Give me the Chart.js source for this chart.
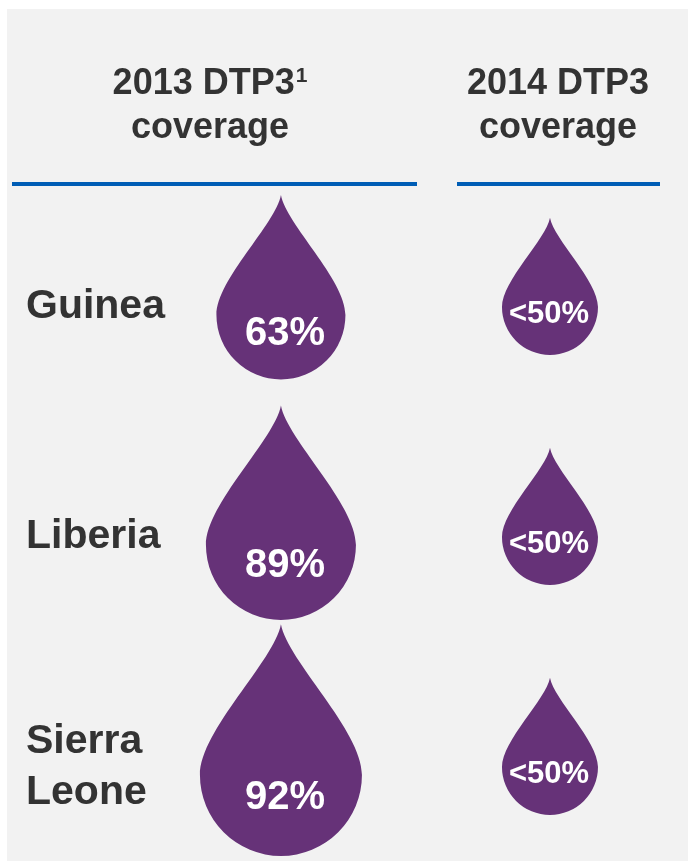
<!DOCTYPE html>
<html>
<head>
<meta charset="utf-8">
<script src="https://cdn.jsdelivr.net/npm/chart.js@4"></script>
<style>
  body { margin: 0; background: #fff; }
  canvas { display: block; }
</style>
</head>
<body>
<canvas id="chart" width="688" height="861"></canvas>
<script>
// data
const countries = ["Guinea", "Liberia", "Sierra Leone"];
const years = [2013, 2014];
const coverage2013 = [63, 89, 92];
const coverage2014 = [50, 50, 50]; // shown as "<50%"
const headers = [
  { main: "2013 DTP3", sup: "1", sub: "coverage" },
  { main: "2014 DTP3", sup: "", sub: "coverage" }
];

const purple = "#663278";
const textColor = "#333333";
const fontFamily = "'Liberation Sans', Arial, sans-serif";

function points(year, values) {
  return values.map((v, i) => ({ x: year, y: countries[i], v: v }));
}

// drop shaped path, circle part centred on cx, cy
function dropPath(ctx, cx, cy, r) {
  const tip = cy - 1.86 * r;
  ctx.beginPath();
  ctx.moveTo(cx, tip);
  ctx.bezierCurveTo(cx + 0.08 * r, tip + 0.45 * r, cx + r, cy - 0.55 * r, cx + r, cy);
  ctx.arc(cx, cy, r, 0, Math.PI);
  ctx.bezierCurveTo(cx - r, cy - 0.55 * r, cx - 0.08 * r, tip + 0.45 * r, cx, tip);
  ctx.closePath();
}

const panelPlugin = {
  id: "panel",
  beforeDraw(chart) {
    const ctx = chart.ctx;
    ctx.save();
    ctx.fillStyle = "#ffffff";
    ctx.fillRect(0, 0, chart.width, chart.height);
    ctx.fillStyle = "#f2f2f2";
    ctx.fillRect(7, 9, chart.width - 7, chart.height - 9);
    ctx.restore();
  }
};

// column headers + blue rules
const headerPlugin = {
  id: "headers",
  afterDraw(chart) {
    const ctx = chart.ctx;
    const centres = [210, 558];
    const rules = [[12, 417], [457, 660]];
    ctx.save();
    ctx.fillStyle = textColor;
    ctx.textBaseline = "alphabetic";
    headers.forEach((h, i) => {
      ctx.font = "bold 36px " + fontFamily;
      const wMain = ctx.measureText(h.main).width;
      ctx.font = "bold 21px " + fontFamily;
      const wSup = h.sup ? ctx.measureText(h.sup).width + 1 : 0;
      const x0 = centres[i] - (wMain + wSup) / 2;
      ctx.textAlign = "left";
      ctx.font = "bold 36px " + fontFamily;
      ctx.fillText(h.main, x0, 94);
      if (h.sup) {
        ctx.font = "bold 21px " + fontFamily;
        ctx.fillText(h.sup, x0 + wMain + 1, 82);
      }
      ctx.font = "bold 36px " + fontFamily;
      ctx.textAlign = "center";
      ctx.fillText(h.sub, centres[i], 138);
    });
    ctx.fillStyle = "#005db5";
    rules.forEach(r => ctx.fillRect(r[0], 182, r[1] - r[0], 4));
    ctx.restore();
  }
};

// DROPS
const dropPlugin = {
  id: "drops",
  afterDatasetsDraw(chart) {
    const ctx = chart.ctx;
    chart.data.datasets.forEach((ds, di) => {
      const meta = chart.getDatasetMeta(di);
      meta.data.forEach((pt, i) => {
        const r = ds.dropRadius[i];
        const cy = pt.y + ds.dropShift;
        ctx.save();
        dropPath(ctx, pt.x, cy, r);
        ctx.fillStyle = ds.backgroundColor;
        ctx.fill();
        const size = ds.labelSize;
        ctx.font = "bold " + size + "px " + fontFamily;
        ctx.fillStyle = "#ffffff";
        ctx.textAlign = "center";
        ctx.textBaseline = "alphabetic";
        const label = ds.labelPrefix + ds.data[i].v + "%";
        ctx.fillText(label, pt.x + ds.labelDx, cy + ds.labelShift * r + 0.36 * size);
        ctx.restore();
      });
    });
  }
};

new Chart(document.getElementById("chart"), {
  type: "scatter",
  data: {
    datasets: [
      {
        label: "2013",
        data: points(years[0], coverage2013),
        backgroundColor: purple,
        pointRadius: 0,
        dropRadius: [64.5, 75, 81],
        dropShift: 8,
        labelShift: 0.24,
        labelSize: 40,
        labelDx: 4,
        labelPrefix: ""
      },
      {
        label: "2014",
        data: points(years[1], coverage2014),
        backgroundColor: purple,
        pointRadius: 0,
        dropRadius: [48, 48, 48],
        dropShift: 0,
        labelShift: 0.1,
        labelSize: 31,
        labelDx: -1,
        labelPrefix: "<"
      }
    ]
  },
  options: {
    responsive: false,
    animation: false,
    layout: { padding: { left: 26, top: 307, right: 0, bottom: 94 } },
    plugins: {
      legend: { display: false },
      tooltip: { enabled: false }
    },
    scales: {
      x: {
        type: "linear",
        display: false,
        min: 2012.885,
        max: 2014.513
      },
      y: {
        type: "category",
        labels: countries,
        offset: false,
        grid: { display: false },
        border: { display: false },
        afterFit(scale) { scale.width = 224; },
        ticks: {
          crossAlign: "far",
          padding: 0,
          color: textColor,
          font: { family: fontFamily, size: 41, weight: "bold", lineHeight: 1.25 },
          callback: function (value) {
            const name = this.getLabelForValue(value);
            return name.includes(" ") ? name.split(" ") : name;
          }
        }
      }
    }
  },
  plugins: [panelPlugin, headerPlugin, dropPlugin]
});
</script>
</body>
</html>
